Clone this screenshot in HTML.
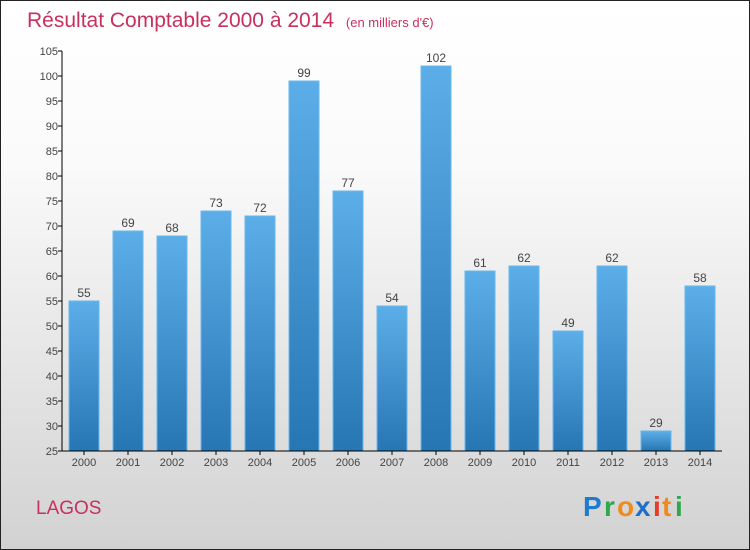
<!DOCTYPE html>
<html><head><meta charset="utf-8"><style>
body{margin:0}
#c{width:748px;height:548px;border:1px solid #222;background:linear-gradient(#fff,#fafafa 30%,#d2d2d2);position:relative;font-family:"Liberation Sans",sans-serif;overflow:hidden}
</style></head><body>
<div id="c">
<svg width="748" height="548" id="svg">
<defs><linearGradient id="bg" x1="0" y1="0" x2="0" y2="1"><stop offset="0" stop-color="#5caee8"/><stop offset="1" stop-color="#2776b4"/></linearGradient></defs>
<text x="26" y="26" font-size="21" fill="#c8305e">Résultat Comptable 2000 à 2014 <tspan font-size="13" dx="6">(en milliers d'€)</tspan></text>
<text x="35" y="513" font-size="19" fill="#c8305e">LAGOS</text>
<g font-size="28" font-weight="bold" font-family="Liberation Sans, sans-serif">
<text x="582" y="515" fill="#1e7bd0">P</text><text x="603" y="515" fill="#2ea84a">r</text><text x="616" y="515" fill="#f08a1c">o</text><text x="634" y="515" fill="#1e6fc8">x</text><text x="652" y="515" fill="#e53a2a">i</text><text x="661" y="515" fill="#f08a1c">t</text><text x="674" y="515" fill="#2ea84a">i</text>
</g>
<g id="plot"></g>
</svg></div>
<script>
const categories=["2000","2001","2002","2003","2004","2005","2006","2007","2008","2009","2010","2011","2012","2013","2014"];
const values=[55,69,68,73,72,99,77,54,102,61,62,49,62,29,58];
const ticks=[25,30,35,40,45,50,55,60,65,70,75,80,85,90,95,100,105];
const NS="http://www.w3.org/2000/svg";
const g=document.getElementById("plot");
const y=v=>450-(v-25)*5;
const x=i=>83+i*44;
function el(t,a,p){const e=document.createElementNS(NS,t);for(const k in a)e.setAttribute(k,a[k]);(p||g).appendChild(e);return e;}
ticks.forEach(t=>{
const l=el("line",{x1:57,x2:61,y1:y(t),y2:y(t),stroke:"#000"});


const tx=el("text",{x:57,y:y(t)+4,"font-size":11,fill:"#444","text-anchor":"end"});tx.textContent=t;


});
categories.forEach((c,i)=>{
const r=el("rect",{x:x(i)-15,y:y(values[i]),width:30,height:450-y(values[i]),fill:"url(#bg)",stroke:"#6ab8ee","stroke-width":1});


const v=el("text",{x:x(i),y:y(values[i])-4,"font-size":12,fill:"#444","text-anchor":"middle"});v.textContent=values[i];


const tl=el("line",{x1:x(i),x2:x(i),y1:450,y2:454,stroke:"#000"});


const t=el("text",{x:x(i),y:465,"font-size":11,fill:"#444","text-anchor":"middle"});t.textContent=c;


});
const ya=el("line",{x1:61,x2:61,y1:50,y2:450,stroke:"#000"});


const xa=el("line",{x1:61,x2:721,y1:450,y2:450,stroke:"#000"});


</script>
</body></html>
